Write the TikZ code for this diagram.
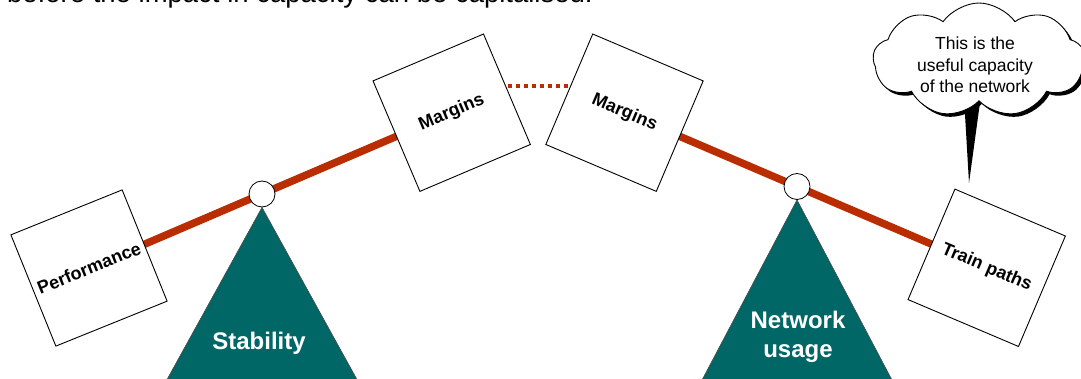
\documentclass[tikz,border=0pt]{standalone}
\usepackage{fontspec}
\setmainfont{Liberation Sans}
\usetikzlibrary{shapes.symbols,shadows,backgrounds}
\definecolor{beamred}{RGB}{185,45,0}
\definecolor{fulcrum}{RGB}{0,102,102}

\begin{document}
\begin{tikzpicture}[x=1pt,y=-1pt,
  weight/.style={draw=black, line width=0.9pt, fill=white, minimum size=120pt,
    inner sep=0pt, font=\bfseries\fontsize{18}{21}\selectfont},
  beam/.style={draw=beamred, line width=7.5pt},
  gap/.style={draw=beamred, line width=4pt, dash pattern=on 4.5pt off 3.5pt},
  pivot/.style={circle, draw=black, line width=0.8pt, fill=white,
    minimum size=26pt, inner sep=0pt},
  support/.style={fill=fulcrum, draw=black!70, line width=0.6pt},
  supportlabel/.style={text=white, font=\bfseries\fontsize{24}{29}\selectfont,
    align=center, inner sep=0pt},
  bubble/.style={cloud, cloud puffs=9, cloud puff arc=110, cloud ignores aspect,
    draw=black, fill=white, line width=0.9pt, minimum width=212pt,
    minimum height=114pt,
    drop shadow={shadow xshift=3pt, shadow yshift=-3pt, fill=black, opacity=1}},
  bubbletext/.style={align=center, inner sep=0pt,
    font=\fontsize{17.5}{21.7}\selectfont}]
\useasboundingbox (0,0) rectangle (1081,379);

% heading line running off the top edge
\node[anchor=base west, inner sep=0pt, font=\fontsize{27.5}{32}\selectfont]
  (caption) at (7,3) {before the impact in capacity can be capitalised.};

% weights on the two see-saws
\node[weight, rotate=22]  (perf)  at (89,268)      {Performance};
\node[weight, rotate=23]  (marg1) at (451.7,112.7) {Margins};
\node[weight, rotate=-23] (marg2) at (624.5,112.7) {Margins};
\node[weight, rotate=-23] (train) at (986.7,267.8) {Train paths};

% pivots
\node[pivot] (piv1) at (262,194)   {};
\node[pivot] (piv2) at (797,186.5) {};

% call-out cloud
\coordinate (tip) at (969,183);
\node[bubble] (cloud) at (979,60) {};
\node[bubbletext] (note) at (975,65) {This is the\\useful capacity\\of the network};

\begin{scope}[on background layer]
  % supports
  \draw[support] (piv1.south) -- (164,385) -- (360,385) -- cycle;
  \draw[support] (piv2.south) -- (699.4,385) -- (894.6,385) -- cycle;
  \node[supportlabel] (stab) at (259,343) {Stability};
  \node[supportlabel] (usage) at (798,337) {Network\\usage};
  % beams
  \draw[beam] (perf.center) -- (marg1.center);
  \draw[beam] (marg2.center) -- (train.center);
  \draw[gap] ([yshift=26.7pt]marg1.center) -- ([yshift=26.7pt]marg2.center);
  % pointer of the cloud
  \fill[black] (964.5,106) -- (979.5,106) -- (tip) -- cycle;
\end{scope}
\end{tikzpicture}
\end{document}
